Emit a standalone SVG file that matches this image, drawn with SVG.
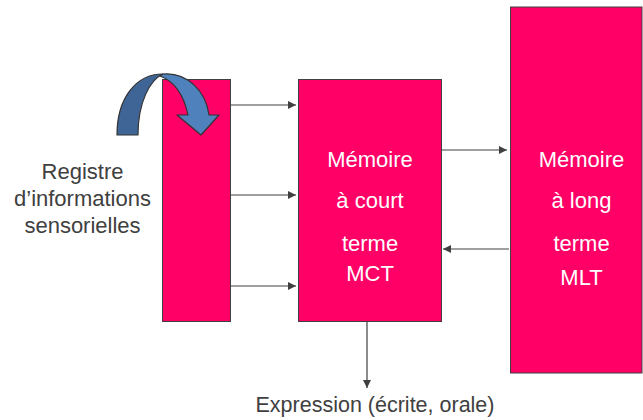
<svg xmlns="http://www.w3.org/2000/svg" width="643" height="420" viewBox="0 0 643 420">
<style>
.box{fill:#ff0066;stroke:#404040;stroke-width:1}
.lbl{font-family:"Liberation Sans",Arial,sans-serif;font-size:22px;text-anchor:middle}
.w{fill:#ffffff}
.d{fill:#404040}
.con{stroke:#404040;stroke-width:1.2;fill:none;marker-end:url(#ah)}
</style>
<defs>
<marker id="ah" viewBox="0 0 10 10" refX="10" refY="5" markerWidth="8" markerHeight="8" markerUnits="userSpaceOnUse" orient="auto">
<path d="M0,0 L10,5 L0,10 Z" fill="#404040"/>
</marker>
</defs>
<rect width="643" height="420" fill="#ffffff"/>
<g id="registre">
<rect class="box" x="162.5" y="79.5" width="68" height="242"/>
</g>
<g id="registre-label">
<text class="lbl d" x="82.5" y="178.5">Registre</text>
<text class="lbl d" x="82.5" y="205.5">d’informations</text>
<text class="lbl d" x="82.5" y="232.5">sensorielles</text>
</g>
<g id="curved-arrow">
<path d="M117,135 C117,98 136,74 163,74 C150,80 138,102 138,135 Z" fill="#3e6596" stroke="#333" stroke-width="1.2" stroke-linejoin="round"/>
<path d="M163,74 C188,72 206,92 209,115 L219,115 L201,135 L177,115 L188,115 C184,96 176,82 160,76 Z" fill="#4f81bd" stroke="#333" stroke-width="1.2" stroke-linejoin="round"/>
</g>
<g id="mct">
<rect class="box" x="298.5" y="79.5" width="143" height="242"/>
<text class="lbl w" x="370" y="166.5">Mémoire</text>
<text class="lbl w" x="370" y="208">à court</text>
<text class="lbl w" x="370" y="250.5">terme</text>
<text class="lbl w" x="370" y="280.5">MCT</text>
</g>
<g id="mlt">
<rect class="box" x="510.5" y="7" width="131.5" height="366"/>
<text class="lbl w" x="581.5" y="166.5">Mémoire</text>
<text class="lbl w" x="581.5" y="208">à long</text>
<text class="lbl w" x="581.5" y="250.5">terme</text>
<text class="lbl w" x="581.5" y="284.5">MLT</text>
</g>
<g id="expression">
<text class="lbl d" x="375" y="412" style="font-size:21.5px">Expression (écrite, orale)</text>
</g>
<g id="connectors">
<line class="con" x1="231" y1="105" x2="296" y2="105"/>
<line class="con" x1="231" y1="195" x2="296" y2="195"/>
<line class="con" x1="231" y1="286" x2="296" y2="286"/>
<line class="con" x1="442" y1="150" x2="507" y2="150"/>
<line class="con" x1="509" y1="249" x2="443" y2="249"/>
<line class="con" x1="367" y1="322" x2="367" y2="388"/>
</g>
</svg>
